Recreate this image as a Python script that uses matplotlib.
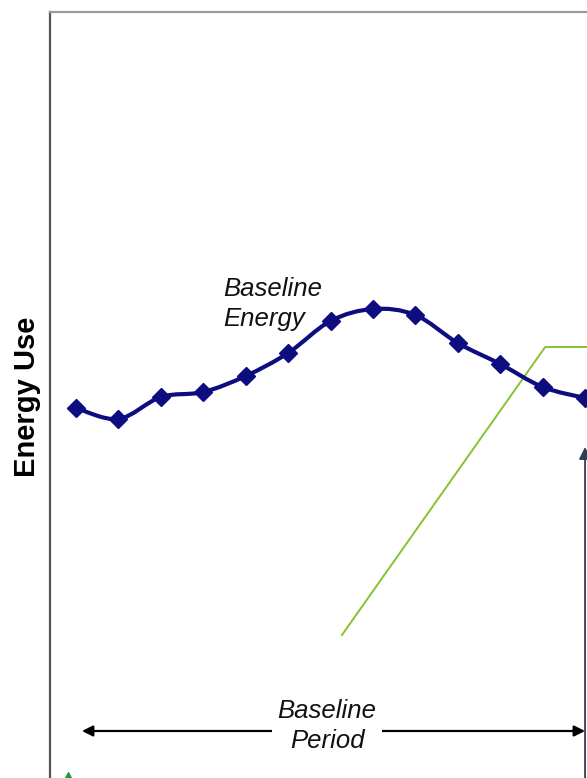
import matplotlib
matplotlib.use("Agg")
import matplotlib.pyplot as plt
from matplotlib.path import Path
from matplotlib.patches import PathPatch

plt.rcParams['font.family'] = ['Liberation Sans', 'DejaVu Sans']

# Monthly baseline energy use (arbitrary units)
months = list(range(13))
baseline_energy = [370, 359, 381, 386, 402, 425, 457, 469, 463, 435, 414, 391, 380]

# Adjusted-baseline guide line (month, energy)
guide_x = [6.27, 11.06, 13.0]
guide_y = [143, 431, 431]

# Baseline period span
period_start, period_end, period_level = 0.14, 12.0, 47

W, H = 587, 778
fig = plt.figure(figsize=(W / 100, H / 100), dpi=100)

x_left, x_right = -0.613, 13.0
px_per_month = 42.42
ax_left_px = 50
ax_width_px = (x_right - x_left) * px_per_month
ax = fig.add_axes([ax_left_px / W, 0, ax_width_px / W, (H - 12) / H])
ax.set_xlim(x_left, x_right)
ax.set_ylim(0, H - 12)
ax.set_xticks([])
ax.set_yticks([])
ax.spines['bottom'].set_visible(False)
ax.spines['right'].set_visible(False)
ax.spines['left'].set_color('#555555')
ax.spines['left'].set_linewidth(1.6)
ax.spines['top'].set_color('#9a9a9a')
ax.spines['top'].set_linewidth(1.6)

# Smoothed baseline curve through the monthly points (cubic Bezier segments)
pts = list(zip(months, baseline_energy))
verts = [pts[0]]
codes = [Path.MOVETO]
n = len(pts)
for i in range(n - 1):
    p0 = pts[i - 1] if i > 0 else pts[i]
    p1 = pts[i]
    p2 = pts[i + 1]
    p3 = pts[i + 2] if i + 2 < n else pts[i + 1]
    c1 = (p1[0] + (p2[0] - p0[0]) / 6, p1[1] + (p2[1] - p0[1]) / 6)
    c2 = (p2[0] - (p3[0] - p1[0]) / 6, p2[1] - (p3[1] - p1[1]) / 6)
    verts += [c1, c2, p2]
    codes += [Path.CURVE4] * 3
ax.add_patch(PathPatch(Path(verts, codes), facecolor='none',
                       edgecolor='#0d0d80', linewidth=3.0, zorder=3))
ax.plot(months, baseline_energy, linestyle='none', marker='D', markersize=9.5,
        color='#0d0d80', zorder=4, clip_on=False)

# Adjusted baseline guide
ax.plot(guide_x, guide_y, color='#86c232', linewidth=1.4, zorder=2)

# Baseline period arrow
ax.annotate('', xy=(period_end, period_level), xytext=(period_start, period_level),
            arrowprops=dict(arrowstyle='<|-|>', color='black', lw=1.6,
                            mutation_scale=16, shrinkA=0, shrinkB=0), zorder=3)
ax.text(5.92, period_level + 5, 'Baseline\nPeriod', ha='center', va='center',
        fontsize=18.5, style='italic', linespacing=1.3, zorder=5, color='#111111',
        bbox=dict(facecolor='white', edgecolor='none', pad=4))

# End-of-baseline marker
ax.annotate('', xy=(12.0, 331), xytext=(12.0, -10),
            arrowprops=dict(arrowstyle='-|>', color='#2f3f4f', lw=1.3,
                            mutation_scale=18, shrinkA=0, shrinkB=0), zorder=3)

ax.plot([-0.19], [1], marker='^', markersize=7, color='#1a9e3a',
        linestyle='none', clip_on=False)

ax.text(3.47, 474, 'Baseline\nEnergy', ha='left', va='center', fontsize=18.5,
        style='italic', linespacing=1.3, color='#111111')

fig.text(27 / W, 1 - 397 / H, 'Energy Use', rotation=90, ha='center', va='center',
         fontsize=21, fontweight='bold')

fig.savefig('out.png', dpi=100)
